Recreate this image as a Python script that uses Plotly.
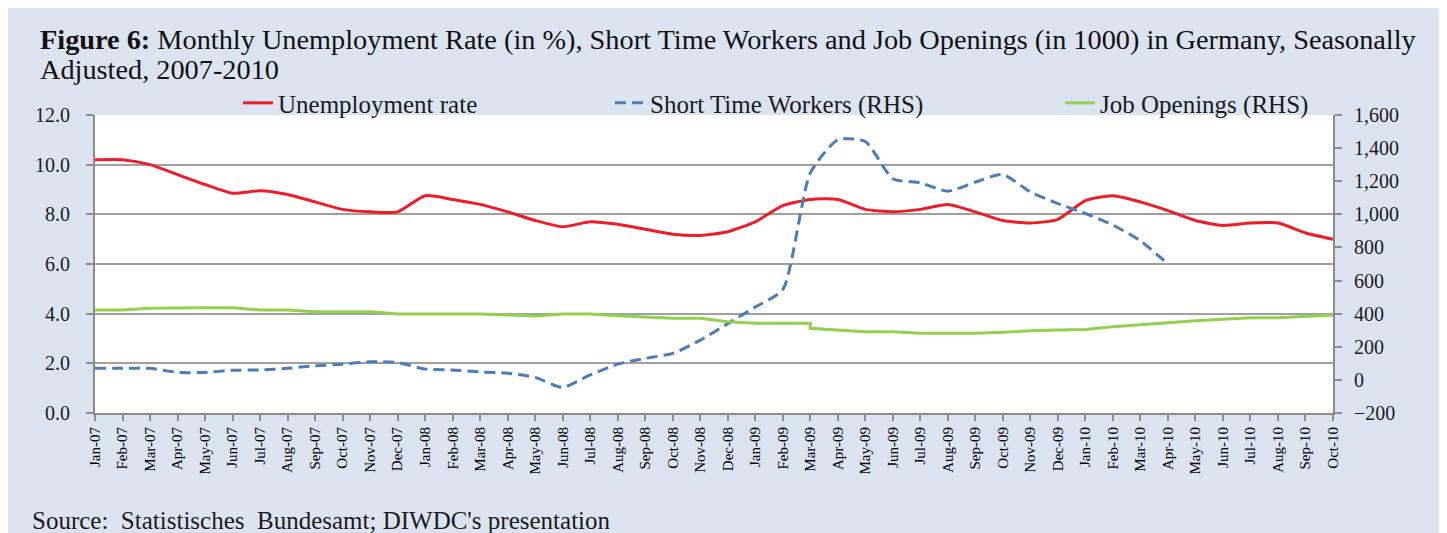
import plotly.graph_objects as go

# --- data ---
months = [
    "Jan-07", "Feb-07", "Mar-07", "Apr-07", "May-07", "Jun-07", "Jul-07", "Aug-07",
    "Sep-07", "Oct-07", "Nov-07", "Dec-07",
    "Jan-08", "Feb-08", "Mar-08", "Apr-08", "May-08", "Jun-08", "Jul-08", "Aug-08",
    "Sep-08", "Oct-08", "Nov-08", "Dec-08",
    "Jan-09", "Feb-09", "Mar-09", "Apr-09", "May-09", "Jun-09", "Jul-09", "Aug-09",
    "Sep-09", "Oct-09", "Nov-09", "Dec-09",
    "Jan-10", "Feb-10", "Mar-10", "Apr-10", "May-10", "Jun-10", "Jul-10", "Aug-10",
    "Sep-10", "Oct-10",
]

# unemployment rate, % (left axis)
unemployment = [
    10.2, 10.2, 10.0, 9.6, 9.2, 8.85, 8.95, 8.8, 8.5, 8.2, 8.1, 8.1,
    8.75, 8.6, 8.4, 8.1, 7.75, 7.5, 7.7, 7.6, 7.4, 7.2, 7.15, 7.3,
    7.7, 8.35, 8.6, 8.6, 8.2, 8.1, 8.2, 8.4, 8.1, 7.75, 7.65, 7.8,
    8.55, 8.75, 8.5, 8.15, 7.75, 7.55, 7.65, 7.65, 7.25, 7.0,
]

# short time workers, 1000 (right axis), series stops at Apr-10
short_time = [
    70, 70, 70, 45, 45, 58, 60, 70, 85, 95, 110, 105,
    65, 60, 48, 40, 15, -45, 30, 95, 130, 160, 240, 340,
    440, 545, 1250, 1450, 1440, 1215, 1190, 1140, 1195, 1240, 1135, 1065,
    1005, 935, 840, 700, None, None, None, None, None, None,
]

# job openings, 1000 (right axis); Mar-09 appears twice (break in the series)
job_months = months[:27] + months[26:]
job_openings = [
    422, 422, 432, 436, 436, 436, 422, 422, 412, 412, 412, 398,
    398, 398, 398, 392, 386, 398, 398, 388, 382, 372, 372, 351,
    342, 342, 342, 312, 301, 291, 291, 281, 281, 281, 287, 297, 301,
    305, 321, 331, 345, 357, 366, 376, 376, 386, 392,
]

SERIF = "Liberation Serif"
GRID = "#a0a0a0"
AXIS = "#8c8c8c"
TEXT = "#1a1a1a"

fig = go.Figure()
fig.add_trace(go.Scatter(
    x=months, y=unemployment, name="Unemployment rate", mode="lines",
    line=dict(color="#ee1c25", width=3, shape="spline", smoothing=0.6),
    legend="legend", showlegend=True,
))
fig.add_trace(go.Scatter(
    x=months, y=short_time, name="Short Time Workers (RHS)", mode="lines",
    line=dict(color="#4a7ebb", width=3, dash="11px,6px", shape="spline", smoothing=0.6),
    yaxis="y2", legend="legend2", showlegend=True,
))
fig.add_trace(go.Scatter(
    x=job_months, y=job_openings, name="Job Openings (RHS)", mode="lines",
    line=dict(color="#92d050", width=3),
    yaxis="y2", legend="legend3", showlegend=True,
))

legend_base = dict(
    orientation="h", y=1.04, yanchor="middle", xanchor="left",
    bgcolor="rgba(0,0,0,0)", font=dict(family=SERIF, size=25, color=TEXT),
)

# plot area: x 87..1325, y 107..405 (figure px)
fig.update_layout(
    width=1431,
    height=525,
    margin=dict(l=87, r=106, t=107, b=120),
    paper_bgcolor="#dce3f0",
    plot_bgcolor="white",
    font=dict(family=SERIF, color=TEXT),
    showlegend=True,
    legend=dict(legend_base, x=0.1155),
    legend2=dict(legend_base, x=0.416),
    legend3=dict(legend_base, x=0.7795),
    xaxis=dict(
        type="category", range=[0, 45], tickangle=-90,
        ticks="outside", ticklen=6, tickcolor=AXIS, tickwidth=2,
        showline=True, linecolor=AXIS, linewidth=2, showgrid=False,
        tickfont=dict(family=SERIF, size=15, color="#000"),
    ),
    yaxis=dict(
        range=[0, 12], dtick=2, tickformat=".1f",
        showgrid=True, gridcolor=GRID, gridwidth=2, zeroline=False,
        showline=True, linecolor=AXIS, linewidth=2,
        ticks="outside", ticklen=7, tickcolor=AXIS, tickwidth=2,
        ticklabelstandoff=12,
        tickfont=dict(family=SERIF, size=20, color=TEXT),
    ),
    yaxis2=dict(
        overlaying="y", side="right", range=[-200, 1600], dtick=200,
        tickformat=",", showgrid=False, zeroline=False,
        showline=True, linecolor=AXIS, linewidth=2,
        ticks="outside", ticklen=7, tickcolor=AXIS, tickwidth=2,
        ticklabelstandoff=8,
        tickfont=dict(family=SERIF, size=20, color=TEXT),
    ),
    annotations=[
        dict(
            text="<b>Figure 6:</b> Monthly Unemployment Rate (in %), Short Time Workers and "
                 "Job Openings (in 1000) in Germany, Seasonally",
            xref="paper", yref="paper", x=(30 - 87) / 1238, y=(405 - 32) / 298,
            xanchor="left", yanchor="middle", showarrow=False,
            font=dict(family=SERIF, size=28.3, color="#111"),
        ),
        dict(
            text="Adjusted, 2007-2010",
            xref="paper", yref="paper", x=(30 - 87) / 1238, y=(405 - 62) / 298,
            xanchor="left", yanchor="middle", showarrow=False,
            font=dict(family=SERIF, size=28.3, color="#111"),
        ),
        dict(
            text="Source:  Statistisches  Bundesamt; DIWDC's presentation",
            xref="paper", yref="paper", x=(22 - 87) / 1238, y=(405 - 512) / 298,
            xanchor="left", yanchor="middle", showarrow=False,
            font=dict(family=SERIF, size=25, color=TEXT),
        ),
    ],
)

fig.write_html("out.html")
